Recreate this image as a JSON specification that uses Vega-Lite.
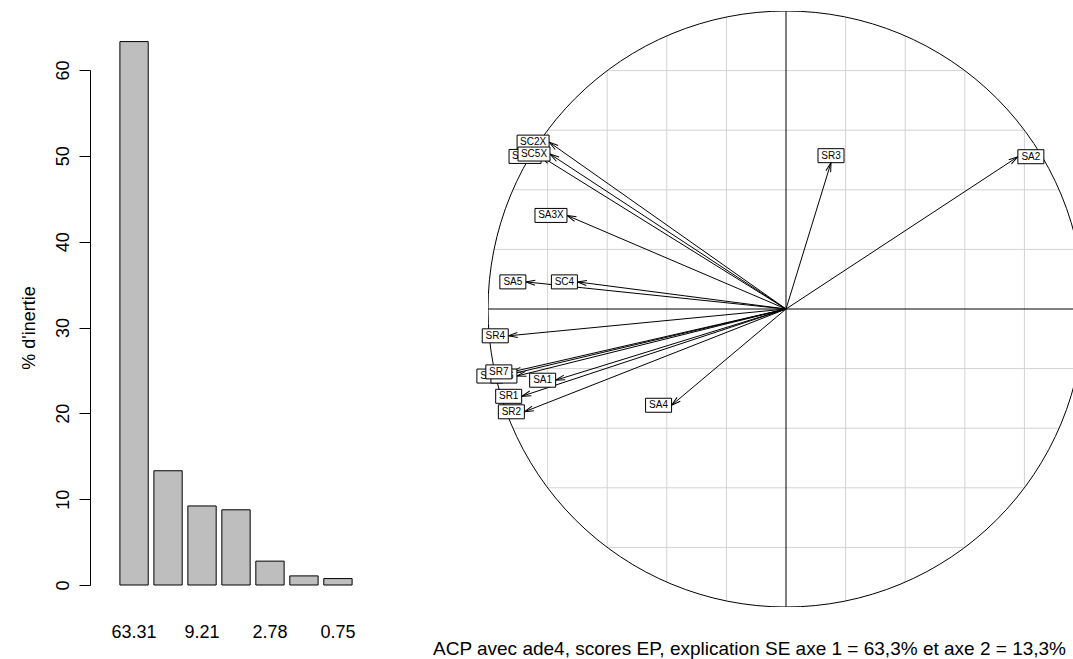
{
  "$schema": "https://vega.github.io/schema/vega-lite/v6.json",
  "padding": {"left": 20, "top": 11, "right": 0, "bottom": 0},
  "background": "white",
  "bounds": "flush",
  "spacing": 106,
  "config": {"font": "Liberation Sans", "view": {"stroke": null}},
  "datasets": {
    "valeurs_propres": [
      {"etiquette": "63.31", "inertie": 63.31},
      {"etiquette": "13.31", "inertie": 13.31},
      {"etiquette": "9.21", "inertie": 9.21},
      {"etiquette": "8.76", "inertie": 8.76},
      {"etiquette": "2.78", "inertie": 2.78},
      {"etiquette": "1.06", "inertie": 1.06},
      {"etiquette": "0.75", "inertie": 0.75}
    ],
    "variables": [
      {"label": "SA1", "x": -0.773, "y": -0.239},
      {"label": "SA2", "x": 0.778, "y": 0.511},
      {"label": "SA3X", "x": -0.735, "y": 0.314},
      {"label": "SA4", "x": -0.384, "y": -0.323},
      {"label": "SA5", "x": -0.873, "y": 0.091},
      {"label": "SR1", "x": -0.887, "y": -0.293},
      {"label": "SR2", "x": -0.878, "y": -0.345},
      {"label": "SR3", "x": 0.151, "y": 0.491},
      {"label": "SR4", "x": -0.932, "y": -0.09},
      {"label": "SR5", "x": -0.95, "y": -0.225},
      {"label": "SR6", "x": -0.903, "y": -0.225},
      {"label": "SR7", "x": -0.92, "y": -0.211},
      {"label": "SC1X", "x": -0.822, "y": 0.512},
      {"label": "SC2X", "x": -0.795, "y": 0.56},
      {"label": "SC4", "x": -0.7, "y": 0.091},
      {"label": "SC5X", "x": -0.792, "y": 0.52}
    ],
    "grille": [
      {"pos": -0.8, "lo": -0.6, "hi": 0.6},
      {"pos": -0.6, "lo": -0.8, "hi": 0.8},
      {"pos": -0.4, "lo": -0.9165, "hi": 0.9165},
      {"pos": -0.2, "lo": -0.9798, "hi": 0.9798},
      {"pos": 0, "lo": -1, "hi": 1},
      {"pos": 0.2, "lo": -0.9798, "hi": 0.9798},
      {"pos": 0.4, "lo": -0.9165, "hi": 0.9165},
      {"pos": 0.6, "lo": -0.8, "hi": 0.8},
      {"pos": 0.8, "lo": -0.6, "hi": 0.6}
    ]
  },
  "hconcat": [
    {
      "width": 292,
      "height": 596,
      "data": {"name": "valeurs_propres"},
      "mark": {"type": "bar", "fill": "#bebebe", "stroke": "#000000", "strokeWidth": 1},
      "encoding": {
        "x": {
          "field": "etiquette", "type": "nominal", "sort": null,
          "scale": {"paddingInner": 0.1667, "paddingOuter": 0.88},
          "axis": {"title": null, "labelAngle": 0, "domain": false, "ticks": false, "tickSize": 0,
                   "labelPadding": 16, "labelFontSize": 18, "labelOverlap": "parity", "labelColor": "#000000", "labelFont": "Liberation Sans"}
        },
        "y": {
          "field": "inertie", "type": "quantitative",
          "scale": {"domain": [0, 60], "range": [574, 59], "nice": false, "zero": false},
          "axis": {"title": "% d'inertie", "values": [0, 10, 20, 30, 40, 50, 60], "grid": false,
                   "labelAngle": -90, "labelAlign": "center", "labelBaseline": "bottom",
                   "labelFontSize": 18, "labelPadding": 7, "labelColor": "#000000", "labelFont": "Liberation Sans",
                   "tickSize": 11, "tickColor": "#000000", "tickWidth": 1,
                   "domainColor": "#000000", "domainWidth": 1,
                   "titleFontSize": 18, "titleFontWeight": "normal", "titleColor": "#000000", "titlePadding": 16, "titleFont": "Liberation Sans"}
        }
      }
    },
    {
      "width": 585,
      "height": 596,
      "title": {"text": "ACP avec ade4, scores EP, explication SE axe 1 = 63,3% et axe 2 = 13,3%",
                "orient": "bottom", "anchor": "middle", "offset": 33, "dx": -31,
                "fontSize": 19, "fontWeight": "normal", "color": "#000000", "font": "Liberation Sans"},
      "layer": [
        {
          "data": {"name": "grille"},
          "transform": [{"filter": "datum.pos != 0"}],
          "mark": {"type": "rule", "color": "#d3d3d3", "strokeWidth": 1, "clip": true},
          "encoding": {
            "x": {"field": "pos", "type": "quantitative", "scale": {"domain": [-1, 0.963], "nice": false, "zero": false}, "axis": null},
            "y": {"field": "lo", "type": "quantitative", "scale": {"domain": [-1, 1], "nice": false, "zero": false}, "axis": null},
            "y2": {"field": "hi"}
          }
        },
        {
          "data": {"name": "grille"},
          "transform": [{"filter": "datum.pos != 0"}],
          "mark": {"type": "rule", "color": "#d3d3d3", "strokeWidth": 1, "clip": true},
          "encoding": {
            "y": {"field": "pos", "type": "quantitative", "scale": {"domain": [-1, 1], "nice": false, "zero": false}, "axis": null},
            "x": {"field": "lo", "type": "quantitative", "scale": {"domain": [-1, 0.963], "nice": false, "zero": false}, "axis": null},
            "x2": {"field": "hi"}
          }
        },
        {
          "data": {"values": [{}]},
          "mark": {"type": "point", "shape": "circle", "filled": false, "stroke": "#000000", "strokeWidth": 1, "opacity": 1, "size": 355216, "clip": true},
          "encoding": {
            "x": {"datum": 0, "type": "quantitative", "scale": {"domain": [-1, 0.963], "nice": false, "zero": false}, "axis": null},
            "y": {"datum": 0, "type": "quantitative", "scale": {"domain": [-1, 1], "nice": false, "zero": false}, "axis": null}
          }
        },
        {
          "data": {"name": "grille"},
          "transform": [{"filter": "datum.pos == 0"}],
          "mark": {"type": "rule", "color": "#000000", "strokeWidth": 1, "clip": true},
          "encoding": {
            "x": {"field": "pos", "type": "quantitative", "scale": {"domain": [-1, 0.963], "nice": false, "zero": false}, "axis": null},
            "y": {"field": "lo", "type": "quantitative", "scale": {"domain": [-1, 1], "nice": false, "zero": false}, "axis": null},
            "y2": {"field": "hi"}
          }
        },
        {
          "data": {"name": "grille"},
          "transform": [{"filter": "datum.pos == 0"}],
          "mark": {"type": "rule", "color": "#000000", "strokeWidth": 1, "clip": true},
          "encoding": {
            "y": {"field": "pos", "type": "quantitative", "scale": {"domain": [-1, 1], "nice": false, "zero": false}, "axis": null},
            "x": {"field": "lo", "type": "quantitative", "scale": {"domain": [-1, 0.963], "nice": false, "zero": false}, "axis": null},
            "x2": {"field": "hi"}
          }
        },
        {
          "data": {"name": "variables"},
          "mark": {"type": "rule", "color": "#000000", "strokeWidth": 1},
          "encoding": {
            "x": {"field": "x", "type": "quantitative", "scale": {"domain": [-1, 0.963], "nice": false, "zero": false}, "axis": null},
            "y": {"field": "y", "type": "quantitative", "scale": {"domain": [-1, 1], "nice": false, "zero": false}, "axis": null},
            "x2": {"datum": 0},
            "y2": {"datum": 0}
          }
        },
        {
          "data": {"name": "variables"},
          "mark": {"type": "point", "shape": "M-9.3,-2.5L0,0L-9.3,2.5", "filled": false, "stroke": "#000000", "strokeWidth": 1, "opacity": 1, "size": 4,
                   "angle": {"expr": "atan2(-datum.y, datum.x) * 180 / PI"}},
          "encoding": {
            "x": {"field": "x", "type": "quantitative", "scale": {"domain": [-1, 0.963], "nice": false, "zero": false}, "axis": null},
            "y": {"field": "y", "type": "quantitative", "scale": {"domain": [-1, 1], "nice": false, "zero": false}, "axis": null}
          }
        },
        {
          "data": {"name": "variables"},
          "transform": [{"filter": "datum.label == 'SC1X' || datum.label == 'SR5'"}],
          "mark": {"type": "point", "filled": true, "fill": "#ffffff", "stroke": "#000000", "strokeWidth": 1, "opacity": 1, "size": 4,
                   "shape": {"expr": "abs(datum.x) > abs(datum.y) ? (datum.x > 0 ? 'M0,-7H' + (6*length(datum.label)+8) + 'V7H0Z' : 'M0,-7H' + (-6*length(datum.label)-8) + 'V7H0Z') : (datum.y > 0 ? 'M' + (-3*length(datum.label)-4) + ',0V-14H' + (3*length(datum.label)+4) + 'V0Z' : 'M' + (-3*length(datum.label)-4) + ',0V14H' + (3*length(datum.label)+4) + 'V0Z')"}},
          "encoding": {
            "x": {"field": "x", "type": "quantitative", "scale": {"domain": [-1, 0.963], "nice": false, "zero": false}, "axis": null},
            "y": {"field": "y", "type": "quantitative", "scale": {"domain": [-1, 1], "nice": false, "zero": false}, "axis": null}
          }
        },
        {
          "data": {"name": "variables"},
          "transform": [{"filter": "datum.label == 'SC1X' || datum.label == 'SR5'"}],
          "mark": {"type": "text", "fontSize": 10, "font": "Liberation Sans", "color": "#000000", "align": "center", "baseline": "middle",
                   "dx": {"expr": "abs(datum.x) > abs(datum.y) ? (datum.x > 0 ? 3*length(datum.label)+4 : -3*length(datum.label)-4) : 0"},
                   "dy": {"expr": "abs(datum.x) > abs(datum.y) ? 0 : (datum.y > 0 ? -7 : 7)"}},
          "encoding": {
            "x": {"field": "x", "type": "quantitative", "scale": {"domain": [-1, 0.963], "nice": false, "zero": false}, "axis": null},
            "y": {"field": "y", "type": "quantitative", "scale": {"domain": [-1, 1], "nice": false, "zero": false}, "axis": null},
            "text": {"field": "label"}
          }
        },
        {
          "data": {"name": "variables"},
          "transform": [{"filter": "datum.label == 'SR6'"}],
          "mark": {"type": "point", "filled": true, "fill": "#ffffff", "stroke": "#000000", "strokeWidth": 1, "opacity": 1, "size": 4,
                   "shape": {"expr": "abs(datum.x) > abs(datum.y) ? (datum.x > 0 ? 'M0,-7H' + (6*length(datum.label)+8) + 'V7H0Z' : 'M0,-7H' + (-6*length(datum.label)-8) + 'V7H0Z') : (datum.y > 0 ? 'M' + (-3*length(datum.label)-4) + ',0V-14H' + (3*length(datum.label)+4) + 'V0Z' : 'M' + (-3*length(datum.label)-4) + ',0V14H' + (3*length(datum.label)+4) + 'V0Z')"}},
          "encoding": {
            "x": {"field": "x", "type": "quantitative", "scale": {"domain": [-1, 0.963], "nice": false, "zero": false}, "axis": null},
            "y": {"field": "y", "type": "quantitative", "scale": {"domain": [-1, 1], "nice": false, "zero": false}, "axis": null}
          }
        },
        {
          "data": {"name": "variables"},
          "transform": [{"filter": "datum.label == 'SR6'"}],
          "mark": {"type": "text", "fontSize": 10, "font": "Liberation Sans", "color": "#000000", "align": "center", "baseline": "middle",
                   "dx": {"expr": "abs(datum.x) > abs(datum.y) ? (datum.x > 0 ? 3*length(datum.label)+4 : -3*length(datum.label)-4) : 0"},
                   "dy": {"expr": "abs(datum.x) > abs(datum.y) ? 0 : (datum.y > 0 ? -7 : 7)"}},
          "encoding": {
            "x": {"field": "x", "type": "quantitative", "scale": {"domain": [-1, 0.963], "nice": false, "zero": false}, "axis": null},
            "y": {"field": "y", "type": "quantitative", "scale": {"domain": [-1, 1], "nice": false, "zero": false}, "axis": null},
            "text": {"field": "label"}
          }
        },
        {
          "data": {"name": "variables"},
          "transform": [{"filter": "datum.label != 'SC1X' && datum.label != 'SR5' && datum.label != 'SR6'"}],
          "mark": {"type": "point", "filled": true, "fill": "#ffffff", "stroke": "#000000", "strokeWidth": 1, "opacity": 1, "size": 4,
                   "shape": {"expr": "abs(datum.x) > abs(datum.y) ? (datum.x > 0 ? 'M0,-7H' + (6*length(datum.label)+8) + 'V7H0Z' : 'M0,-7H' + (-6*length(datum.label)-8) + 'V7H0Z') : (datum.y > 0 ? 'M' + (-3*length(datum.label)-4) + ',0V-14H' + (3*length(datum.label)+4) + 'V0Z' : 'M' + (-3*length(datum.label)-4) + ',0V14H' + (3*length(datum.label)+4) + 'V0Z')"}},
          "encoding": {
            "x": {"field": "x", "type": "quantitative", "scale": {"domain": [-1, 0.963], "nice": false, "zero": false}, "axis": null},
            "y": {"field": "y", "type": "quantitative", "scale": {"domain": [-1, 1], "nice": false, "zero": false}, "axis": null}
          }
        },
        {
          "data": {"name": "variables"},
          "transform": [{"filter": "datum.label != 'SC1X' && datum.label != 'SR5' && datum.label != 'SR6'"}],
          "mark": {"type": "text", "fontSize": 10, "font": "Liberation Sans", "color": "#000000", "align": "center", "baseline": "middle",
                   "dx": {"expr": "abs(datum.x) > abs(datum.y) ? (datum.x > 0 ? 3*length(datum.label)+4 : -3*length(datum.label)-4) : 0"},
                   "dy": {"expr": "abs(datum.x) > abs(datum.y) ? 0 : (datum.y > 0 ? -7 : 7)"}},
          "encoding": {
            "x": {"field": "x", "type": "quantitative", "scale": {"domain": [-1, 0.963], "nice": false, "zero": false}, "axis": null},
            "y": {"field": "y", "type": "quantitative", "scale": {"domain": [-1, 1], "nice": false, "zero": false}, "axis": null},
            "text": {"field": "label"}
          }
        }
      ]
    }
  ]
}
